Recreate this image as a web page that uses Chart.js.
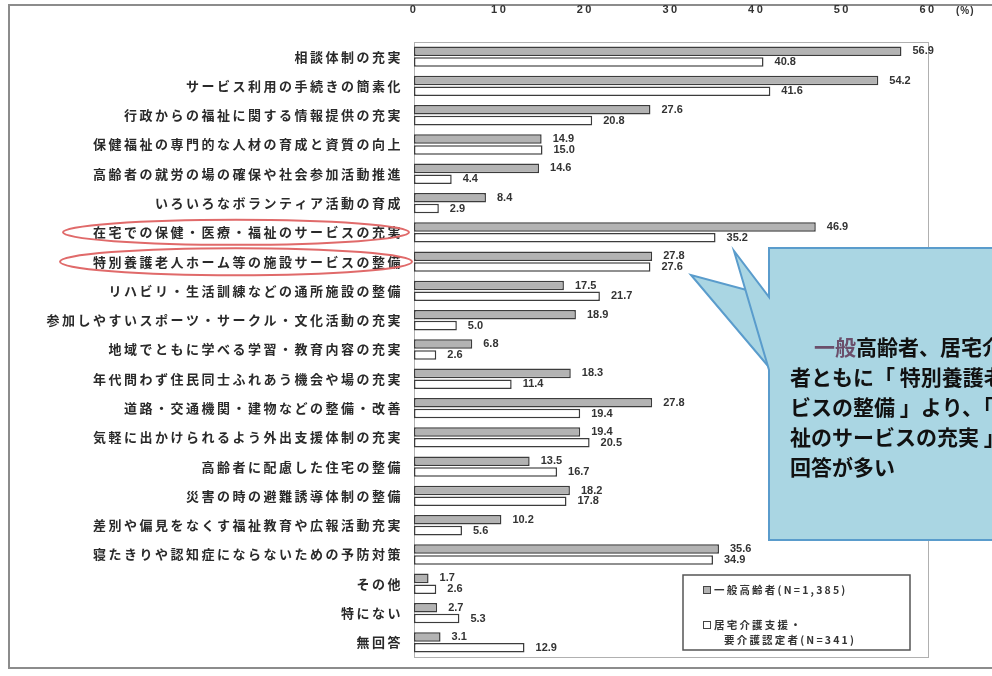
<!DOCTYPE html>
<html lang="ja">
<head>
<meta charset="utf-8">
<title>高齢者施策で重要なこと</title>
<script src="https://cdn.jsdelivr.net/npm/chart.js@4.4.1/dist/chart.umd.min.js"></script>
<style>
    html, body { margin: 0; padding: 0; background: #fff; }
    #wrap { width: 992px; height: 676px; }
</style>
</head>
<body>
<div id="wrap"><canvas id="sesakuChart" width="992" height="676"></canvas></div>
<script>
// 回答項目
const kategoriler = [
    '相談体制の充実',
    'サービス利用の手続きの簡素化',
    '行政からの福祉に関する情報提供の充実',
    '保健福祉の専門的な人材の育成と資質の向上',
    '高齢者の就労の場の確保や社会参加活動推進',
    'いろいろなボランティア活動の育成',
    '在宅での保健・医療・福祉のサービスの充実',
    '特別養護老人ホーム等の施設サービスの整備',
    'リハビリ・生活訓練などの通所施設の整備',
    '参加しやすいスポーツ・サークル・文化活動の充実',
    '地域でともに学べる学習・教育内容の充実',
    '年代問わず住民同士ふれあう機会や場の充実',
    '道路・交通機関・建物などの整備・改善',
    '気軽に出かけられるよう外出支援体制の充実',
    '高齢者に配慮した住宅の整備',
    '災害の時の避難誘導体制の整備',
    '差別や偏見をなくす福祉教育や広報活動充実',
    '寝たきりや認知症にならないための予防対策',
    'その他',
    '特にない',
    '無回答'
];

// 一般高齢者 (%)
const ippanKoreisha = [56.9, 54.2, 27.6, 14.9, 14.6, 8.4, 46.9, 27.8, 17.5, 18.9, 6.8, 18.3, 27.8, 19.4, 13.5, 18.2, 10.2, 35.6, 1.7, 2.7, 3.1];
// 居宅介護支援・要介護認定者 (%)
const kyotakuNinteisha = [40.8, 41.6, 20.8, 15.0, 4.4, 2.9, 35.2, 27.6, 21.7, 5.0, 2.6, 11.4, 19.4, 20.5, 16.7, 17.8, 5.6, 34.9, 2.6, 5.3, 12.9];

const xTicks = [0, 10, 20, 30, 40, 50, 60];
const seriesLabels = ['一般高齢者(N=1,385)', '居宅介護支援・要介護認定者(N=341)'];
const legendLines = [['一般高齢者(N=1,385)'], ['居宅介護支援・', '要介護認定者(N=341)']];
const circledRows = [6, 7];

const calloutLines = [
    '　一般高齢者、居宅介護支援・要介護認定',
    '者ともに「 特別養護老人ホーム等の施設サー',
    'ビスの整備 」より、「 在宅での保健・医療・福',
    '祉のサービスの充実 」の',
    '回答が多い'
];

const JP = '"Noto Sans CJK JP", "Noto Sans", sans-serif';
const NUM = '"Liberation Sans", Arial, sans-serif';

// 文字間隔・枠線
const framePlugin = {
    id: 'waku',
    beforeDraw(chart) {
        const ctx = chart.ctx;
        ctx.save();
        ctx.strokeStyle = '#8c8c8c';
        ctx.lineWidth = 2;
        ctx.strokeRect(9, 5, 1000, 663);
        ctx.font = 'bold 10px ' + NUM;
        ctx.fillStyle = '#333';
        ctx.textBaseline = 'middle';
        ctx.letterSpacing = '1px';
        ctx.fillText('(%)', 956, 11);
        ctx.restore();
        ctx.letterSpacing = '2.5px';
    },
    beforeDatasetsDraw(chart) {
        const ctx = chart.ctx;
        ctx.letterSpacing = '0px';
        const a = chart.chartArea;
        ctx.save();
        ctx.strokeStyle = '#b0b0b0';
        ctx.lineWidth = 1;
        ctx.strokeRect(a.left + 0.5, a.top + 0.5, a.right - a.left, a.bottom - a.top);
        ctx.restore();
    }
};

// 数値ラベル
const valuePlugin = {
    id: 'suuchi',
    afterDatasetsDraw(chart) {
        const ctx = chart.ctx;
        ctx.save();
        ctx.font = 'bold 11px ' + NUM;
        ctx.fillStyle = '#333';
        ctx.textAlign = 'left';
        ctx.textBaseline = 'middle';
        chart.data.datasets.forEach((ds, di) => {
            chart.getDatasetMeta(di).data.forEach((bar, i) => {
                ctx.fillText(ds.data[i].toFixed(1), bar.x + 11, bar.y);
            });
        });
        ctx.restore();
    }
};

// 丸囲み・吹き出し・凡例
const notePlugin = {
    id: 'chuki',
    afterDraw(chart) {
        const ctx = chart.ctx;
        const yScale = chart.scales.y;
        ctx.save();

        ctx.strokeStyle = '#e06a6a';
        ctx.lineWidth = 2;
        circledRows.forEach((r, k) => {
            const cy = yScale.getPixelForValue(r);
            ctx.beginPath();
            ctx.ellipse(236, cy, 173 + k * 3, 12.5 + k, 0, 0, Math.PI * 2);
            ctx.stroke();
        });

        // 吹き出し
        ctx.fillStyle = '#aad6e3';
        ctx.strokeStyle = '#5a9ccc';
        ctx.lineWidth = 2;
        ctx.lineJoin = 'miter';
        ctx.beginPath();
        ctx.moveTo(769, 296);
        ctx.lineTo(691, 275);
        ctx.lineTo(768, 366);
        ctx.closePath();
        ctx.fill();
        ctx.stroke();

        ctx.beginPath();
        ctx.moveTo(769, 248);
        ctx.lineTo(1010, 248);
        ctx.lineTo(1010, 540);
        ctx.lineTo(769, 540);
        ctx.lineTo(769, 370);
        ctx.lineTo(734, 251);
        ctx.lineTo(769, 297);
        ctx.closePath();
        ctx.fill();
        ctx.stroke();

        ctx.font = 'bold 21px ' + JP;
        ctx.textBaseline = 'middle';
        ctx.textAlign = 'left';
        calloutLines.forEach((t, i) => {
            const y = 347 + i * 30;
            if (i === 0) {
                ctx.fillStyle = '#6b4f6b';
                ctx.fillText('　一般', 793, y);
                const w = ctx.measureText('　一般').width;
                ctx.fillStyle = '#111';
                ctx.fillText(t.slice(3), 793 + w, y);
            } else {
                ctx.fillStyle = '#111';
                ctx.fillText(t, 790, y);
            }
        });

        // 凡例
        ctx.fillStyle = '#fff';
        ctx.strokeStyle = '#555';
        ctx.lineWidth = 1.5;
        ctx.fillRect(683, 575, 227, 75);
        ctx.strokeRect(683, 575, 227, 75);

        ctx.font = 'bold 10.5px ' + JP;
        ctx.letterSpacing = '2.2px';
        ctx.textBaseline = 'middle';
        const legendY = [590, 625];
        chart.data.datasets.forEach((ds, di) => {
            const y0 = legendY[di];
            ctx.fillStyle = ds.backgroundColor;
            ctx.strokeStyle = '#444';
            ctx.lineWidth = 1;
            ctx.fillRect(703, y0 - 4, 7, 7);
            ctx.strokeRect(703.5, y0 - 3.5, 7, 7);
            ctx.fillStyle = '#333';
            legendLines[di].forEach((line, li) => {
                ctx.fillText(line, li === 0 ? 714 : 724, y0 + li * 15);
            });
        });
        ctx.restore();
    }
};

const ctx = document.getElementById('sesakuChart').getContext('2d');
new Chart(ctx, {
    type: 'bar',
    data: {
        labels: kategoriler,
        datasets: [
            {
                label: seriesLabels[0],
                data: ippanKoreisha,
                backgroundColor: '#b3b3b3',
                borderColor: '#3c3c3c',
                borderWidth: 1.5,
                borderSkipped: false,
                categoryPercentage: 0.74,
                barPercentage: 0.88
            },
            {
                label: seriesLabels[1],
                data: kyotakuNinteisha,
                backgroundColor: '#ffffff',
                borderColor: '#3c3c3c',
                borderWidth: 1.5,
                borderSkipped: false,
                categoryPercentage: 0.74,
                barPercentage: 0.88
            }
        ]
    },
    options: {
        indexAxis: 'y',
        responsive: false,
        animation: false,
        devicePixelRatio: 1,
        layout: { padding: { left: 0, top: 0, right: 64, bottom: 19 } },
        plugins: {
            legend: { display: false },
            tooltip: { enabled: false }
        },
        scales: {
            x: {
                position: 'top',
                min: 0,
                max: 60,
                afterBuildTicks: scale => { scale.ticks = xTicks.map(v => ({ value: v })); },
                grid: { display: false, drawTicks: false },
                border: { display: false },
                ticks: {
                    padding: 25,
                    color: '#333',
                    font: { family: NUM, size: 11, weight: 'bold' }
                },
                afterFit: scale => { scale.height = 42; }
            },
            y: {
                grid: { display: false, drawTicks: false },
                border: { display: true, color: '#555', width: 1 },
                ticks: {
                    padding: 11,
                    color: '#2a2a2a',
                    autoSkip: false,
                    font: { family: JP, size: 13, weight: 'bold' }
                },
                afterFit: scale => { scale.width = 414; }
            }
        }
    },
    plugins: [framePlugin, valuePlugin, notePlugin]
});
</script>
</body>
</html>
